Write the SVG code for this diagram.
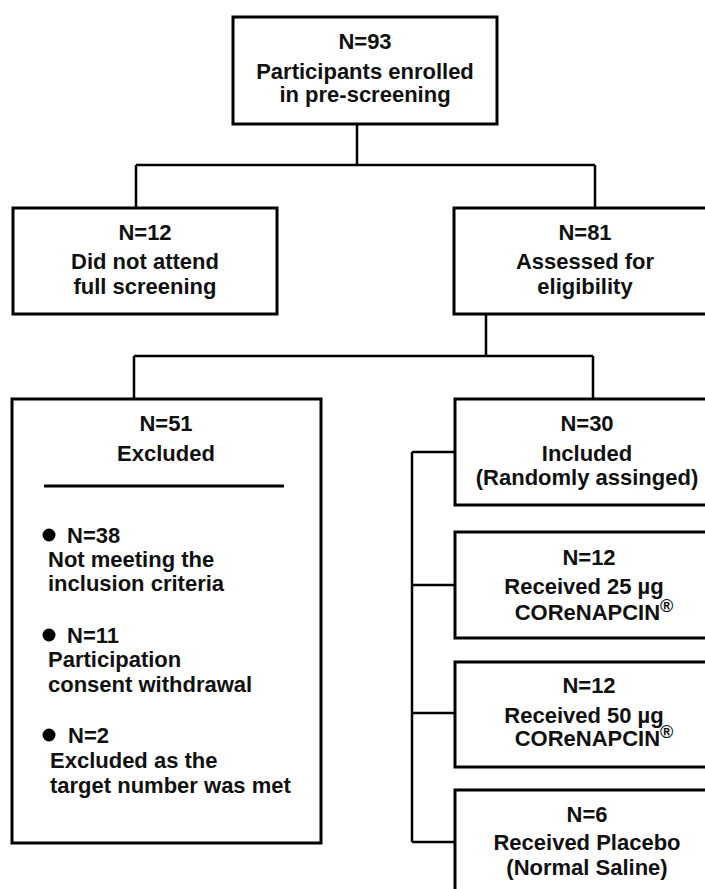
<svg xmlns="http://www.w3.org/2000/svg" width="705" height="889" viewBox="0 0 705 889">
<style>
.box{fill:#fff;stroke:#000;stroke-width:3}
.conn{fill:none;stroke:#000;stroke-width:2.5}
.sep{stroke:#000;stroke-width:3}
text{font-family:"Liberation Sans",Arial,sans-serif;font-weight:bold;font-size:22px;fill:#111}
.c{text-anchor:middle}
.sup{font-size:18px}
</style>
<rect x="0" y="0" width="705" height="889" fill="#fff"/>
<g id="connectors">
<path class="conn" d="M357,124 V165 M136,165 H595 M136,165 V208 M595,165 V208"/>
<path class="conn" d="M486,314 V356 M134,356 H593 M134,356 V399 M593,356 V399"/>
<path class="conn" d="M412,452 V842 M412,452 H455 M412,585 H455 M412,713 H455 M412,842 H455"/>
</g>
<g id="node-enrolled">
<rect class="box" x="233" y="17" width="264" height="107"/>
<text class="c" x="365" y="49">N=93</text>
<text class="c" x="365" y="79">Participants enrolled</text>
<text class="c" x="365" y="102">in pre-screening</text>
</g>
<g id="node-not-attend">
<rect class="box" x="13" y="208" width="264" height="106"/>
<text class="c" x="145" y="240">N=12</text>
<text class="c" x="145" y="269">Did not attend</text>
<text class="c" x="145" y="294">full screening</text>
</g>
<g id="node-assessed">
<rect class="box" x="454" y="208" width="260" height="106"/>
<text class="c" x="585" y="240">N=81</text>
<text class="c" x="585" y="269">Assessed for</text>
<text class="c" x="585" y="294">eligibility</text>
</g>
<g id="node-excluded">
<rect class="box" x="12" y="399" width="309" height="444"/>
<text class="c" x="166" y="431">N=51</text>
<text class="c" x="166" y="461">Excluded</text>
<line class="sep" x1="44" y1="486" x2="284" y2="486"/>
<circle cx="49" cy="535" r="6.5"/>
<text x="67" y="543">N=38</text>
<text x="48" y="567">Not meeting the</text>
<text x="48" y="591">inclusion criteria</text>
<circle cx="49" cy="635" r="6.5"/>
<text x="67" y="643">N=11</text>
<text x="48" y="667">Participation</text>
<text x="48" y="692">consent withdrawal</text>
<circle cx="49" cy="735" r="6.5"/>
<text x="68" y="743">N=2</text>
<text x="50" y="768">Excluded as the</text>
<text x="50" y="793">target number was met</text>
</g>
<g id="node-included">
<rect class="box" x="455" y="399" width="260" height="106"/>
<text class="c" x="587" y="431">N=30</text>
<text class="c" x="587" y="461">Included</text>
<text class="c" x="587" y="485">(Randomly assinged)</text>
</g>
<g id="node-25ug">
<rect class="box" x="455" y="532" width="260" height="106"/>
<text class="c" x="589" y="565">N=12</text>
<text class="c" x="584" y="594">Received 25 µg</text>
<text class="c" x="594" y="620">COReNAPCIN<tspan class="sup" dy="-8">®</tspan></text>
</g>
<g id="node-50ug">
<rect class="box" x="455" y="662" width="260" height="105"/>
<text class="c" x="589" y="693">N=12</text>
<text class="c" x="584" y="723">Received 50 µg</text>
<text class="c" x="594" y="746">COReNAPCIN<tspan class="sup" dy="-8">®</tspan></text>
</g>
<g id="node-placebo">
<rect class="box" x="455" y="790" width="260" height="110"/>
<text class="c" x="587" y="822">N=6</text>
<text class="c" x="587" y="850">Received Placebo</text>
<text class="c" x="587" y="875">(Normal Saline)</text>
</g>
</svg>
